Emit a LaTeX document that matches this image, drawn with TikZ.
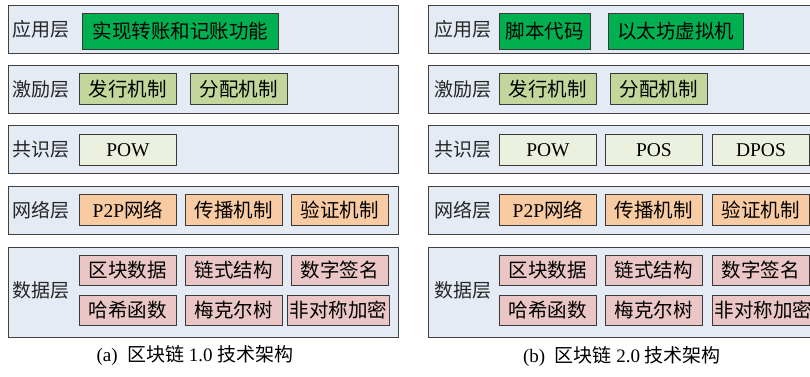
\documentclass[tikz,border=0pt]{standalone}
\usepackage{fontspec}
\setmainfont{Liberation Serif}
\newfontfamily\cjk{Noto Sans CJK SC}
\definecolor{laybg}{HTML}{E4EBF5}
\definecolor{layline}{HTML}{404040}
\definecolor{boxline}{HTML}{3A3A3A}
\definecolor{appc}{HTML}{00B050}
\definecolor{incc}{HTML}{C3D69B}
\definecolor{conc}{HTML}{EBF1DE}
\definecolor{netc}{HTML}{F9CBA2}
\definecolor{datc}{HTML}{EAC6C6}
\begin{document}
\begin{tikzpicture}[x=1pt,y=-1pt,
  layer/.style={draw=layline, line width=1.1pt, fill=laybg, anchor=north west, inner sep=0pt, minimum height=48pt},
  ibox/.style={draw=boxline, line width=0.9pt, anchor=north west, inner sep=0pt, minimum width=97pt, minimum height=31pt, font=\fontsize{19.5}{19.5}\selectfont},
  lab/.style={anchor=west, inner sep=0pt, font=\fontsize{19}{19}\selectfont\cjk, text=black!85},
  captxt/.style={inner sep=0pt, font=\fontsize{19}{19}\selectfont}]
\useasboundingbox (0,0) rectangle (810,376);
\fill[white] (0,0) rectangle (810,376);
% ---------------- left panel ----------------
\node[layer, minimum width=390pt] (La1) at (8,5) {};
\node[layer, minimum width=390pt] (La2) at (8,65) {};
\node[layer, minimum width=390pt] (La3) at (8,125) {};
\node[layer, minimum width=390pt] (La4) at (8,186) {};
\node[layer, minimum width=390pt, minimum height=90pt] (La5) at (8,247) {};
\node[lab] (ta1) at (12,29) {应用层};
\node[lab] (ta2) at (12,89) {激励层};
\node[lab] (ta3) at (12,149) {共识层};
\node[lab] (ta4) at (12,210) {网络层};
\node[lab] (ta5) at (12,290) {数据层};
\node[ibox, fill=appc, minimum width=196pt, minimum height=36pt] (a11) at (82,13) {\cjk 实现转账和记账功能};
\node[ibox, fill=incc] (a21) at (79,73) {\cjk 发行机制};
\node[ibox, fill=incc] (a22) at (190,73) {\cjk 分配机制};
\node[ibox, fill=conc] (a31) at (79,134) {POW};
\node[ibox, fill=netc] (a41) at (79,194) {P2P\cjk 网络};
\node[ibox, fill=netc] (a42) at (185,194) {\cjk 传播机制};
\node[ibox, fill=netc] (a43) at (291,194) {\cjk 验证机制};
\node[ibox, fill=datc, minimum height=30pt] (a51) at (79,255) {\cjk 区块数据};
\node[ibox, fill=datc, minimum height=30pt] (a52) at (185,255) {\cjk 链式结构};
\node[ibox, fill=datc, minimum height=30pt] (a53) at (291,255) {\cjk 数字签名};
\node[ibox, fill=datc, minimum height=30pt] (a54) at (79,295) {\cjk 哈希函数};
\node[ibox, fill=datc, minimum height=30pt] (a55) at (185,295) {\cjk 梅克尔树};
\node[ibox, fill=datc, minimum height=30pt, minimum width=102pt] (a56) at (287,295) {\cjk 非对称加密};
\node[captxt] (capa) at (195,356) {(a)\ \ {\cjk 区块链} 1.0 {\cjk 技术架构}};
% ---------------- right panel ----------------
\node[layer, minimum width=420pt] (Lb1) at (428,5) {};
\node[layer, minimum width=420pt] (Lb2) at (428,65) {};
\node[layer, minimum width=420pt] (Lb3) at (428,125) {};
\node[layer, minimum width=420pt] (Lb4) at (428,186) {};
\node[layer, minimum width=420pt, minimum height=90pt] (Lb5) at (428,247) {};
\node[lab] (tb1) at (434,29) {应用层};
\node[lab] (tb2) at (434,89) {激励层};
\node[lab] (tb3) at (434,149) {共识层};
\node[lab] (tb4) at (434,210) {网络层};
\node[lab] (tb5) at (434,290) {数据层};
\node[ibox, fill=appc, minimum width=91pt, minimum height=36pt] (b11) at (499,13) {\cjk 脚本代码};
\node[ibox, fill=appc, minimum width=135pt, minimum height=36pt] (b12) at (608,13) {\cjk 以太坊虚拟机};
\node[ibox, fill=incc] (b21) at (499,73) {\cjk 发行机制};
\node[ibox, fill=incc] (b22) at (610,73) {\cjk 分配机制};
\node[ibox, fill=conc] (b31) at (499,134) {POW};
\node[ibox, fill=conc] (b32) at (605,134) {POS};
\node[ibox, fill=conc] (b33) at (712,134) {DPOS};
\node[ibox, fill=netc] (b41) at (499,194) {P2P\cjk 网络};
\node[ibox, fill=netc] (b42) at (605,194) {\cjk 传播机制};
\node[ibox, fill=netc] (b43) at (712,194) {\cjk 验证机制};
\node[ibox, fill=datc, minimum height=30pt] (b51) at (499,255) {\cjk 区块数据};
\node[ibox, fill=datc, minimum height=30pt] (b52) at (605,255) {\cjk 链式结构};
\node[ibox, fill=datc, minimum height=30pt] (b53) at (712,255) {\cjk 数字签名};
\node[ibox, fill=datc, minimum height=30pt] (b54) at (499,295) {\cjk 哈希函数};
\node[ibox, fill=datc, minimum height=30pt] (b55) at (605,295) {\cjk 梅克尔树};
\node[ibox, fill=datc, minimum height=30pt, minimum width=102pt] (b56) at (712,295) {\cjk 非对称加密};
\node[captxt] (capb) at (622,357) {(b)\ \ {\cjk 区块链} 2.0 {\cjk 技术架构}};
\end{tikzpicture}
\end{document}
